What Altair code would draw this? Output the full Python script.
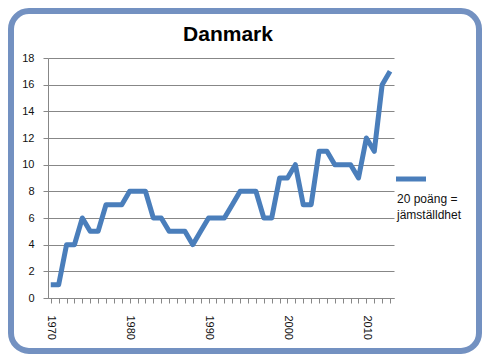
import altair as alt
import pandas as pd

# ---- data ----
years = list(range(1970, 2014))
points = [1, 1, 4, 4, 6, 5, 5, 7, 7, 7,
          8, 8, 8, 6, 6, 5, 5, 5, 4, 5,
          6, 6, 6, 7, 8, 8, 8, 6, 6, 9,
          9, 10, 7, 7, 11, 11, 10, 10, 10, 9,
          12, 11, 16, 17]
y_ticks = list(range(0, 19, 2))
title_text = "Danmark"
legend_text = "20 poäng =\njämställdhet"

LINE = "#4a7ebb"
BORDER = "#7391c1"
GRID = "#878787"
FONT = "Liberation Sans"

df = pd.DataFrame({"year": years, "value": points})

W, H = 346, 240

line = alt.Chart(df).mark_line(
    color=LINE, strokeWidth=5, strokeJoin="round", strokeCap="butt"
).encode(
    x=alt.X(
        "year:Q",
        scale=alt.Scale(domain=[1969.65, 2013.5], nice=False, zero=False),
        axis=alt.Axis(
            values=years, format="d",
            labelExpr="datum.value % 10 == 0 ? datum.label : ''",
            labelAngle=90, labelFlush=False, labelOverlap=False,
            grid=False, title=None, tickSize=5, labelPadding=12,
        ),
    ),
    y=alt.Y(
        "value:Q",
        scale=alt.Scale(domain=[0, 18], nice=False),
        axis=alt.Axis(values=y_ticks, title=None, grid=True, tickSize=5,
                      labelPadding=9),
    ),
)

border = alt.Chart(pd.DataFrame({"k": [0]})).mark_rect(
    filled=False, stroke=BORDER, strokeWidth=6, cornerRadius=18
).encode(
    x=alt.value(-37), x2=alt.value(431), y=alt.value(-47), y2=alt.value(293)
)

title = alt.Chart(pd.DataFrame({"t": [title_text]})).mark_text(
    align="center", baseline="alphabetic", font=FONT, fontSize=21,
    fontWeight="bold", color="#000000"
).encode(x=alt.value(180), y=alt.value(-17), text="t:N")

legend_rule = alt.Chart(pd.DataFrame({"k": [0]})).mark_rule(
    color=LINE, strokeWidth=5
).encode(x=alt.value(348), x2=alt.value(378), y=alt.value(121))

legend_label = alt.Chart(pd.DataFrame({"t": [legend_text]})).mark_text(
    align="left", baseline="alphabetic", lineBreak="\n", lineHeight=16,
    font=FONT, fontSize=12, color="#111111"
).encode(x=alt.value(349), y=alt.value(145), text="t:N")

chart = alt.layer(border, title, line, legend_rule, legend_label).properties(
    width=W, height=H,
    autosize=alt.AutoSizeParams(type="none"),
    padding={"left": 40, "top": 50, "right": 88, "bottom": 56},
).configure_view(
    stroke=None
).configure_axis(
    domainColor=GRID, tickColor=GRID, gridColor=GRID, gridWidth=1,
    labelFont=FONT, labelFontSize=11, labelColor="#111111",
)

chart.save("out.html", embed_options={"renderer": "svg", "actions": False})
